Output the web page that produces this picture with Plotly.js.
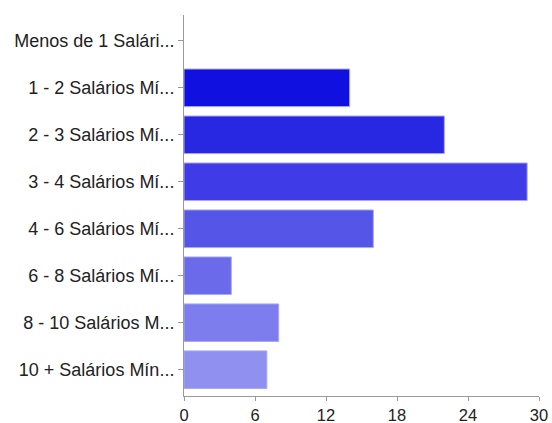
<!DOCTYPE html>
<html>
<head>
<meta charset="utf-8">
<script src="https://cdn.plot.ly/plotly-3.0.1.min.js"></script>
<style>html,body{margin:0;padding:0;background:#fff;}#chart{width:552px;height:423px;}</style>
</head>
<body>
<div id="chart"></div>
<script>
const categories = [
  "Menos de 1 Salári...",
  "1 - 2 Salários Mí...",
  "2 - 3 Salários Mí...",
  "3 - 4 Salários Mí...",
  "4 - 6 Salários Mí...",
  "6 - 8 Salários Mí...",
  "8 - 10 Salários M...",
  "10 + Salários Mín..."
];
const values = [0, 14, 22, 29, 16, 4, 8, 7];
const barColors = ["#0000d8", "#1010e0", "#2828e2", "#3f3be6", "#5555e8", "#6a6aeb", "#7d7dee", "#9090f0"];
const xTicks = [0, 6, 12, 18, 24, 30];

const trace = {
  type: "bar",
  orientation: "h",
  y: categories,
  x: values,
  marker: {
    color: barColors,
    line: { color: "#a8a8f5", width: values.map(v => v > 0 ? 1 : 0) }
  },
  hoverinfo: "none"
};

const layout = {
  width: 552, height: 423,
  margin: { l: 184, r: 13, t: 15, b: 27, pad: 0 },
  paper_bgcolor: "#ffffff",
  plot_bgcolor: "#ffffff",
  bargap: 0.2,
  showlegend: false,
  font: { family: "Liberation Sans, Arial, sans-serif", size: 18, color: "#222" },
  xaxis: {
    range: [0, 30], tickvals: xTicks, ticktext: xTicks.map(String),
    tickfont: { size: 16.5, color: "#222" },
    showgrid: false, zeroline: false, showline: true, linecolor: "#999", linewidth: 1,
    ticks: "outside", ticklen: 4, tickcolor: "#999", ticklabelstandoff: 0, fixedrange: true
  },
  yaxis: {
    type: "category", range: [7.56, -0.55],
    tickfont: { size: 18, color: "#222" },
    showgrid: false, zeroline: false, showline: true, linecolor: "#999", linewidth: 1,
    ticks: "outside", ticklen: 5, tickcolor: "#999", ticklabelstandoff: 0, fixedrange: true
  }
};

Plotly.newPlot("chart", [trace], layout, { displayModeBar: false, staticPlot: true });
</script>
</body>
</html>
